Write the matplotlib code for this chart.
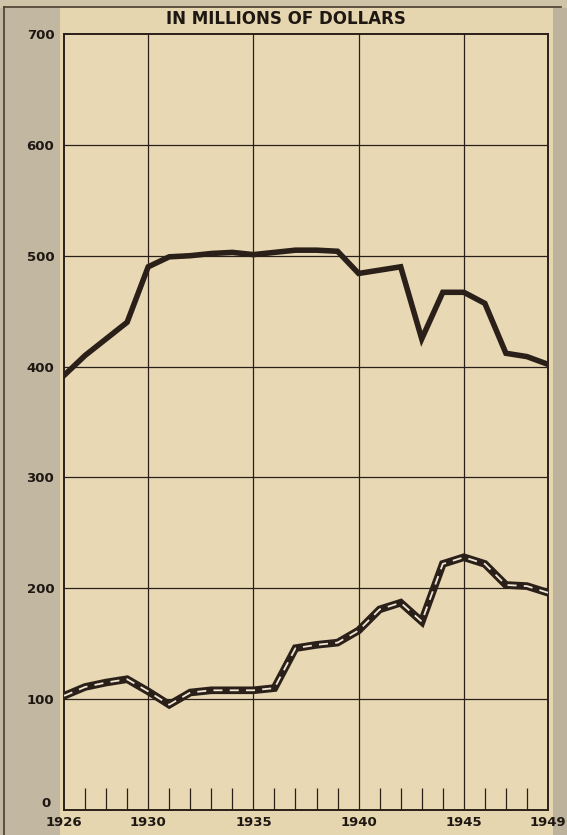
import matplotlib.pyplot as plt
import matplotlib.transforms as mtransforms
from matplotlib.patches import Rectangle

# data (millions of dollars)
years = list(range(1926, 1950))
upper = [392, 410, 425, 440, 490, 499, 500, 502, 503, 501, 503, 505,
         505, 504, 484, 487, 490, 425, 467, 467, 457, 412, 409, 402]
lower = [103, 111, 115, 118, 107, 95, 106, 108, 108, 108, 110, 146,
         149, 151, 162, 181, 187, 170, 222, 228, 222, 203, 202, 196]

major_years = [1930, 1935, 1940, 1945]
year_labels = [1926, 1930, 1935, 1940, 1945, 1949]
y_ticks = [0, 100, 200, 300, 400, 500, 600, 700]

ink = '#2b2019'
paper = '#e6d6b0'

fig = plt.figure(figsize=(5.67, 8.35), dpi=100, facecolor=paper)

# scanned page margins (kept behind the axes)
fig.patches.append(Rectangle((0, 0), 0.105, 1, transform=fig.transFigure,
                             facecolor='#c2b7a0', edgecolor='none', zorder=-5))
fig.patches.append(Rectangle((0.975, 0), 0.025, 1, transform=fig.transFigure,
                             facecolor='#bdb29b', edgecolor='none', zorder=-5))
fig.patches.append(Rectangle((0, 0.99), 1, 0.01, transform=fig.transFigure,
                             facecolor='#cfc3a8', edgecolor='none', zorder=-5))
fig.lines.append(plt.Line2D([0.007, 0.007], [0, 0.992], transform=fig.transFigure,
                            color='#4a3d30', lw=1.2, zorder=-4))
fig.lines.append(plt.Line2D([0.007, 0.99], [0.992, 0.992], transform=fig.transFigure,
                            color='#4a3d30', lw=1.2, zorder=-4))

ax = fig.add_axes([0.1129, 0.0299, 0.8536, 0.9294])
ax.set_facecolor('#e8d9b4')
ax.set_xlim(1926, 1949)
ax.set_ylim(0, 700)

# grid
for y in y_ticks[1:-1]:
    ax.axhline(y, color=ink, lw=0.9, zorder=1)
for yr in major_years:
    ax.axvline(yr, color=ink, lw=0.9, zorder=1)

# upper series: solid heavy line
ax.plot(years, upper, color=ink, lw=4.0, solid_joinstyle='miter', zorder=3)

# lower series: heavy line with a light dashed core
ax.plot(years, lower, color=ink, lw=5.5, solid_joinstyle='miter', zorder=3)
ax.plot(years, lower, color='#f1e7d2', lw=1.3, dashes=(5, 4), zorder=4)

for s in ax.spines.values():
    s.set_color(ink)
    s.set_linewidth(1.4)

ax.set_yticks(y_ticks)
ax.set_yticklabels([str(v) for v in y_ticks])
ax.set_xticks(year_labels)
ax.set_xticklabels([str(v) for v in year_labels])
ax.set_xticks([y for y in years if y not in major_years + [1926, 1949]], minor=True)
ax.tick_params(axis='both', which='major', length=0, pad=7, labelsize=9.5,
               labelcolor='#1e1712')
ax.tick_params(axis='x', which='major', pad=4)
ax.tick_params(axis='x', which='minor', direction='in', length=16, width=0.9,
               color=ink, top=False)
ax.tick_params(axis='y', which='minor', length=0)
for lab in ax.get_xticklabels() + ax.get_yticklabels():
    lab.set_fontweight('heavy')

# the "0" sits a little above the baseline, clear of the year labels
zero_lab = ax.get_yticklabels()[0]
zero_lab.set_transform(zero_lab.get_transform() +
                       mtransforms.ScaledTranslation(-3 / 72, 6 / 72, fig.dpi_scale_trans))

fig.text(0.504, 0.977, 'IN MILLIONS OF DOLLARS', ha='center', va='center',
         fontsize=12, fontweight='heavy', color='#1e1712')

fig.savefig('out.png', dpi=100, facecolor=fig.get_facecolor())
